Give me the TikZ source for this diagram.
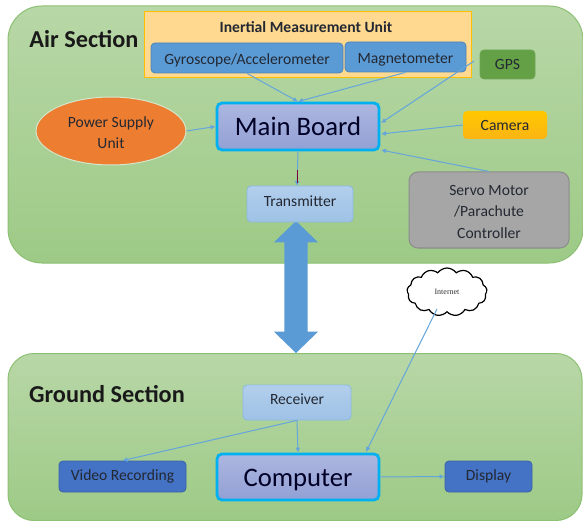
\documentclass[tikz,border=0pt]{standalone}
\usepackage{fontspec}
\setmainfont{Carlito}
\usetikzlibrary{shapes.geometric,shapes.symbols,shapes.arrows,arrows.meta}
\definecolor{secT}{RGB}{184,215,167}
\definecolor{secB}{RGB}{157,202,134}
\definecolor{secE}{RGB}{140,192,115}
\definecolor{blueA}{RGB}{91,155,213}
\definecolor{blueD}{RGB}{68,114,196}
\definecolor{conn}{RGB}{100,165,220}
\definecolor{ink}{RGB}{35,40,50}
\definecolor{txT}{RGB}{178,206,236}
\definecolor{txB}{RGB}{158,194,230}
\definecolor{mainT}{RGB}{172,182,224}
\definecolor{mainB}{RGB}{146,160,212}
\definecolor{mainE}{RGB}{0,176,240}
\tikzset{
 section/.style={draw=secE,line width=1pt,top color=secT,bottom color=secB,rounded corners=#1,inner sep=0pt},
 box/.style={rounded corners=4pt,inner sep=0pt,align=center,text=ink,font=\fontsize{15.6}{21}\selectfont},
 midblue/.style={box,fill=blueA,draw=blueA!85!black,line width=.8pt},
 lightblue/.style={box,top color=txT,bottom color=txB,draw=blueA!70!white,line width=.8pt},
 darkblue/.style={box,fill=blueD,draw=blueD!85!black,line width=.8pt},
 major/.style={box,rounded corners=5pt,line width=2.8pt,draw=mainE,top color=mainT,bottom color=mainB,font=\fontsize{26.7}{28}\selectfont,text=black!85!blue},
 flow/.style={draw=conn,line width=1pt,-{Latex[length=5pt,width=5pt]}},
 title/.style={inner sep=0pt,font=\bfseries\fontsize{24.3}{26}\selectfont,text=black!90}
}
\begin{document}
\begin{tikzpicture}[x=1pt,y=-1pt]
\useasboundingbox[fill=white] (0,0) rectangle (583,521);
\node[section=34pt,minimum width=575,minimum height=257] (air) at (295.5,134.5) {};
\node[section=26pt,minimum width=574,minimum height=167] (ground) at (295,437) {};
\node[title] (airt) at (84,39) {Air Section};
\node[title] (groundt) at (107,394) {Ground Section};
\node[fill=blueA,double arrow,rotate=90,minimum height=132,double arrow head extend=10.5pt,double arrow tip angle=92,inner sep=0pt] (link) at (296,287) {\rule{0pt}{23pt}};
\node[draw=orange!50!yellow,fill={rgb,255:red,255;green,217;blue,143},line width=1pt,minimum width=327,minimum height=66,inner sep=0pt] (imu) at (307.5,45) {};
\node[inner sep=0pt,font=\bfseries\fontsize{15.6}{17}\selectfont,text=ink] (imut) at (306,27) {Inertial Measurement Unit};
\node[midblue,minimum width=192,minimum height=30] (gyro) at (247,58) {\rule{0pt}{15pt}Gyroscope/Accelerometer};
\node[midblue,minimum width=121,minimum height=30] (mag) at (405.5,57) {\rule{0pt}{16pt}Magnetometer};
\node[box,fill={rgb,255:red,100;green,160;blue,70},draw={rgb,255:red,110;green,165;blue,85},line width=.8pt,minimum width=55,minimum height=29] (gps) at (507.5,64.5) {GPS};
\node[major,minimum width=162,minimum height=47] (main) at (298,126.5) {Main Board};
\node[ellipse,draw=secT!60!white,fill={rgb,255:red,237;green,125;blue,49},line width=1pt,inner sep=0pt,minimum width=150,minimum height=68,align=center,text=ink,font=\fontsize{15.6}{21}\selectfont] (psu) at (111,131) {\rule{0pt}{14pt}Power Supply\\Unit};
\node[box,top color={rgb,255:red,255;green,200;blue,0},bottom color={rgb,255:red,252;green,180;blue,20},minimum width=84,minimum height=28] (camera) at (505,125) {Camera};
\node[box,rounded corners=9pt,fill=black!35,draw=black!45,line width=1pt,minimum width=160,minimum height=76,font=\fontsize{15.6}{21.5}\selectfont] (servo) at (489,210) {\rule{0pt}{14pt}Servo Motor\\/Parachute\\Controller};
\node[lightblue,minimum width=106,minimum height=36] (tx) at (300,204) {\raisebox{5pt}{Transmitter}};
\node[cloud,cloud puffs=13,cloud puff arc=110,aspect=1.6,draw=black,line width=1.2pt,fill=white,inner sep=0pt,minimum width=80,minimum height=48,font=\fontsize{8}{9}\selectfont,text=black!80] (net) at (447,292) {\fontspec{Liberation Serif}Internet};
\node[lightblue,minimum width=108,minimum height=35] (rx) at (297,402.5) {\raisebox{6pt}{Receiver}};
\node[darkblue,minimum width=127,minimum height=31] (video) at (122.5,476.5) {Video Recording};
\node[major,minimum width=162,minimum height=46] (computer) at (298,477) {\rule{0pt}{24pt}Computer};
\node[darkblue,minimum width=87,minimum height=31] (display) at (488.5,476.5) {Display};
\coordinate (gpsout) at (474,61);
\coordinate (maintr) at (381,123);
\coordinate (maincam) at (381,134);
\coordinate (mainbr) at (381,150);
\coordinate (compin) at (366,452);
\coordinate (netout) at (437,309);
\coordinate (txin) at (297,186);
\coordinate (marktop) at (297.5,170);
\coordinate (markend) at (297.5,183);
\draw[flow] (gyro.south) -- (main.north);
\draw[flow] (mag.south) -- (main.north);
\draw[flow] (gpsout) -- (maintr);
\draw[flow] (camera.west) -- (maincam);
\draw[flow] (servo.north) -- (mainbr);
\draw[flow] (psu.east) -- (main.west);
\draw[flow] (main.south) -- (txin);
\draw[draw=black!55!blue!50!red,line width=.8pt] (marktop) -- (markend);
\draw[flow] (netout) -- (compin);
\draw[flow] (rx.south) -- (computer.north);
\draw[flow] (rx.south) -- (video.north);
\draw[flow] (computer.east) -- (display.west);
\end{tikzpicture}
\end{document}
